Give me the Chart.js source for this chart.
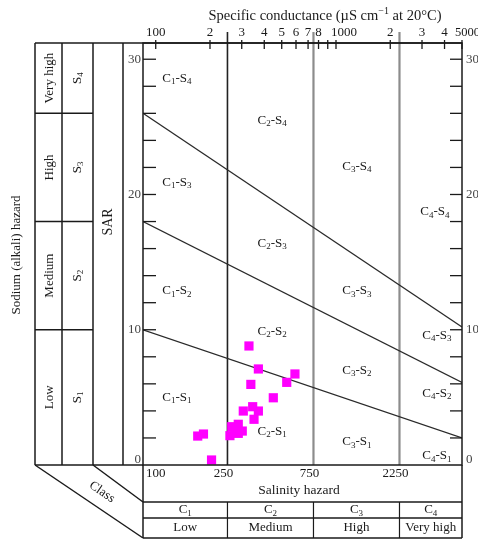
<!DOCTYPE html>
<html>
<head>
<meta charset="utf-8">
<title>Salinity and sodium hazard diagram</title>
<script src="https://cdn.jsdelivr.net/npm/chart.js@4.4.1/dist/chart.umd.min.js"></script>
<style>
  html, body { margin: 0; padding: 0; background: #fff; }
  canvas { display: block; }
</style>
</head>
<body>
<canvas id="c" width="478" height="540"></canvas>
<script>
// Water samples: specific conductance (µS/cm) and sodium adsorption ratio
const sampleEC  = [329, 371, 592, 533, 337, 449, 345, 306, 371, 351, 264, 287, 302, 275, 258, 287, 171, 184, 204];
const sampleSAR = [8.8, 7.1, 6.73, 6.11, 5.96, 4.97, 4.31, 3.99, 3.99, 3.38, 2.83, 3.01, 2.51, 2.42, 2.17, 2.34, 2.14, 2.29, 0.37];

// Salinity class boundaries (µS/cm)
const salinityBreaks = [250, 750, 2250];
const salinityBreakLabels = ['250', '750', '2250'];

// Conductance axis extent
const ecRange = [85, 5000];
const sarRange = [0, 31.2];

// Sodium hazard boundaries: SAR at the low and the high end of the conductance axis
const sodiumLow  = [10, 18, 26];
const sodiumHigh = [2, 6.1, 10.2];

// Upper conductance axis
const topTickValues = [100, 200, 300, 400, 500, 600, 700, 800, 900, 1000, 2000, 3000, 4000, 5000];
const topTickLabels = ['100', '2', '3', '4', '5', '6', '7', '8', '', '1000', '2', '3', '4', '5000'];

// SAR axis
const sarTicks = [2, 4, 6, 8, 10, 12, 14, 16, 18, 20, 22, 24, 26, 28, 30];
const sarLabels = [0, 10, 20, 30];

// Class names
const salinityClasses = ['1', '2', '3', '4'];
const salinityNames = ['Low', 'Medium', 'High', 'Very high'];
const sodiumNames = ['Low', 'Medium', 'High', 'Very high'];

// Zone labels: [C class, S class, EC anchor, SAR anchor]
const zoneLabels = [
  ['1', '4', 131, 28.6], ['2', '4', 442, 25.5], ['3', '4', 1307, 22.1], ['4', '4', 3540, 18.7],
  ['1', '3', 131, 20.9], ['2', '3', 442, 16.4], ['3', '3', 1307, 12.9], ['4', '3', 3630, 9.6],
  ['1', '2', 131, 12.9], ['2', '2', 442, 9.9],  ['3', '2', 1307, 7.0],  ['4', '2', 3630, 5.3],
  ['1', '1', 131, 5.0],  ['2', '1', 442, 2.5],  ['3', '1', 1307, 1.7],  ['4', '1', 3630, 0.7]
];

const SERIF = '"Liberation Serif", "DejaVu Serif", serif';
const INK = '#1a1a1a';

function seg(ctx, x1, y1, x2, y2) {
  ctx.beginPath();
  ctx.moveTo(x1, y1);
  ctx.lineTo(x2, y2);
  ctx.stroke();
}

// Draws text made of runs; each run is [string, shift] where shift is 0, 'sub' or 'sup'
function runs(ctx, parts, x, y, size, align) {
  const small = Math.round(size * 0.68);
  let w = 0;
  const widths = parts.map(([s, k]) => {
    ctx.font = (k ? small : size) + 'px ' + SERIF;
    const m = ctx.measureText(s).width;
    w += m;
    return m;
  });
  let cx = align === 'left' ? x : align === 'right' ? x - w : x - w / 2;
  ctx.textAlign = 'left';
  ctx.textBaseline = 'middle';
  parts.forEach(([s, k], i) => {
    ctx.font = (k ? small : size) + 'px ' + SERIF;
    const dy = k === 'sub' ? size * 0.28 : k === 'sup' ? -size * 0.35 : 0;
    ctx.fillText(s, cx, y + dy);
    cx += widths[i];
  });
}

function label(ctx, s, x, y, size, align, rot) {
  ctx.save();
  ctx.translate(x, y);
  if (rot) ctx.rotate(rot);
  ctx.font = size + 'px ' + SERIF;
  ctx.textAlign = align || 'center';
  ctx.textBaseline = 'middle';
  ctx.fillText(s, 0, 0);
  ctx.restore();
}

const diagram = {
  id: 'diagram',
  beforeDatasetsDraw(chart) {
    const { ctx, chartArea: a, scales: { x, y } } = chart;
    ctx.save();
    // salinity class boundaries
    salinityBreaks.forEach((v, i) => {
      const px = x.getPixelForValue(v);
      ctx.strokeStyle = i === 0 ? '#222' : '#8c8c8c';
      ctx.lineWidth = i === 0 ? 1.6 : 2.2;
      seg(ctx, px, a.top - 11, px, a.bottom);
    });
    // zone names
    ctx.fillStyle = INK;
    zoneLabels.forEach(([c, s, ec, sar]) => {
      runs(ctx, [['C', 0], [c, 'sub'], ['-', 0], ['S', 0], [s, 'sub']],
        x.getPixelForValue(ec), y.getPixelForValue(sar), 13, 'center');
    });
    ctx.restore();
  },
  afterDatasetsDraw(chart) {
    const { ctx, chartArea: a, scales: { x, y } } = chart;
    const colA = 35, colB = 62, colC = 93, colD = 123;
    const rowSal = 502, rowCls = 518, boxBottom = 538;
    ctx.save();
    ctx.strokeStyle = '#1a1a1a';
    ctx.fillStyle = INK;
    ctx.lineWidth = 1.5;

    // plot frame
    ctx.strokeRect(a.left, a.top, a.right - a.left, a.bottom - a.top);
    // top rule across the sodium table
    seg(ctx, colA, a.top, a.right, a.top);

    // sodium hazard table
    [colA, colB, colC, colD].forEach(cx => seg(ctx, cx, a.top, cx, a.bottom));
    seg(ctx, colA, a.bottom, a.left, a.bottom);
    const rowEdges = sodiumLow.map(v => y.getPixelForValue(v));
    rowEdges.forEach(py => seg(ctx, colA, py, colC, py));
    const bounds = [a.bottom].concat(rowEdges).concat([a.top]);
    for (let i = 0; i < 4; i++) {
      const cy = (bounds[i] + bounds[i + 1]) / 2;
      ctx.fillStyle = INK;
      label(ctx, sodiumNames[i], (colA + colB) / 2 + 1, cy, 13, 'center', -Math.PI / 2);
      ctx.save();
      ctx.translate((colB + colC) / 2, cy);
      ctx.rotate(-Math.PI / 2);
      runs(ctx, [['S', 0], [String(i + 1), 'sub']], 0, 0, 13, 'center');
      ctx.restore();
    }
    label(ctx, 'SAR', (colC + colD) / 2, 222, 14, 'center', -Math.PI / 2);
    label(ctx, 'Sodium (alkali) hazard', 17, 255, 13, 'center', -Math.PI / 2);

    // class wedge
    seg(ctx, colA, a.bottom, a.left, boxBottom);
    seg(ctx, colC, a.bottom, a.left, rowSal);
    const ang = Math.atan2(boxBottom - a.bottom, a.left - colA);
    label(ctx, 'Class', 102, 492, 13, 'center', ang);

    // SAR ticks and labels, both sides
    ctx.lineWidth = 1.3;
    sarTicks.forEach(v => {
      const py = y.getPixelForValue(v);
      seg(ctx, a.left, py, a.left + 13, py);
      seg(ctx, a.right - 12, py, a.right, py);
    });
    ctx.fillStyle = '#444';
    sarLabels.forEach(v => {
      const py = y.getPixelForValue(v) - (v === 0 ? 5 : 0);
      label(ctx, String(v), a.left - 2, py, 13, 'right');
      label(ctx, String(v), a.right + 4, py, 13, 'left');
    });

    // upper conductance axis
    ctx.fillStyle = INK;
    ctx.lineWidth = 1.3;
    topTickValues.forEach((v, i) => {
      const px = x.getPixelForValue(v);
      seg(ctx, px, a.top - 3, px, a.top + 6);
      const t = topTickLabels[i];
      if (!t) return;
      if (t === '1000') label(ctx, t, px - 5, a.top - 10, 13, 'left');
      else if (t === '5000') label(ctx, t, px - 7, a.top - 10, 12.5, 'left');
      else label(ctx, t, px, a.top - 10, 13, 'center');
    });
    runs(ctx, [['Specific conductance (µS cm', 0], ['−1', 'sup'], [' at 20°C)', 0]],
      325, 16, 14.5, 'center');

    // salinity hazard box
    ctx.lineWidth = 1.5;
    seg(ctx, a.left, a.bottom, a.left, boxBottom);
    seg(ctx, a.right, a.bottom, a.right, boxBottom);
    seg(ctx, a.left, rowSal, a.right, rowSal);
    seg(ctx, a.left, rowCls, a.right, rowCls);
    seg(ctx, a.left, boxBottom, a.right, boxBottom);
    const edges = [a.left].concat(salinityBreaks.map(v => x.getPixelForValue(v))).concat([a.right]);
    ctx.lineWidth = 1.2;
    salinityBreaks.forEach(v => {
      const px = x.getPixelForValue(v);
      seg(ctx, px, rowSal, px, boxBottom);
    });
    label(ctx, '100', a.left + 3, a.bottom + 9, 13, 'left');
    salinityBreaks.forEach((v, i) => {
      label(ctx, salinityBreakLabels[i], x.getPixelForValue(v) - 4, a.bottom + 9, 13, 'center');
    });
    label(ctx, 'Salinity hazard', 299, 490, 13.5, 'center');
    for (let i = 0; i < 4; i++) {
      const cx = (edges[i] + edges[i + 1]) / 2;
      runs(ctx, [['C', 0], [salinityClasses[i], 'sub']], cx, 510, 13, 'center');
      label(ctx, salinityNames[i], cx, 528, 13, 'center');
    }
    ctx.restore();
  }
};

const boundaryData = sodiumLow.map((lo, i) => ({
  data: [{ x: ecRange[0], y: lo }, { x: ecRange[1], y: sodiumHigh[i] }],
  showLine: true,
  borderColor: '#2a2a2a',
  borderWidth: 1.3,
  pointRadius: 0,
  order: 2
}));

new Chart(document.getElementById('c').getContext('2d'), {
  type: 'scatter',
  data: {
    datasets: boundaryData.concat([{
      data: sampleEC.map((ec, i) => ({ x: ec, y: sampleSAR[i] })),
      pointStyle: 'rect',
      pointRadius: 6.5,
      backgroundColor: '#ff00ff',
      borderWidth: 0,
      order: 1
    }])
  },
  options: {
    responsive: false,
    animation: false,
    devicePixelRatio: 1,
    layout: { padding: { left: 143, right: 16, top: 43, bottom: 75 } },
    scales: {
      x: { type: 'logarithmic', min: ecRange[0], max: ecRange[1], display: false },
      y: { type: 'linear', min: sarRange[0], max: sarRange[1], display: false }
    },
    plugins: { legend: { display: false }, tooltip: { enabled: false } }
  },
  plugins: [diagram]
});
</script>
</body>
</html>
